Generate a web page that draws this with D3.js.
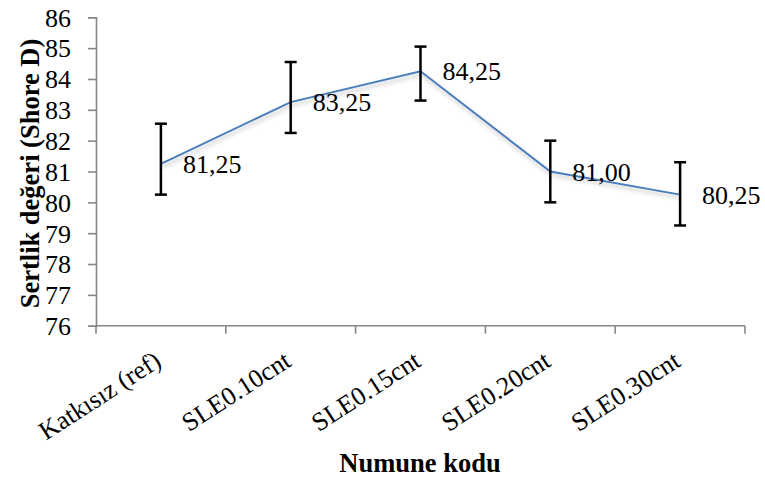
<!DOCTYPE html>
<html>
<head>
<meta charset="utf-8">
<script src="https://cdn.jsdelivr.net/npm/d3@7"></script>
<style>
  html, body { margin: 0; padding: 0; background: #fff; }
  svg text { font-family: "Liberation Serif", "Times New Roman", serif; fill: #000; }
</style>
</head>
<body>
<svg id="chart" width="765" height="481"></svg>
<script>
// Hardness per sample code, with error bar limits
const categories = ["Katkısız (ref)", "SLE0.10cnt", "SLE0.15cnt", "SLE0.20cnt", "SLE0.30cnt"];
const values = [81.25, 83.25, 84.25, 81.00, 80.25];
const upperLimits = [82.55, 84.55, 85.05, 82.00, 81.30];
const lowerLimits = [80.25, 82.25, 83.30, 80.00, 79.25];
const yTicks = [76, 77, 78, 79, 80, 81, 82, 83, 84, 85, 86];
const yTitle = "Sertlik değeri (Shore D)";
const xTitle = "Numune kodu";

const fmt = v => v.toFixed(2).replace(".", ",");

const svg = d3.select("#chart");
const plot = { left: 96, right: 745, top: 17.3, bottom: 325.7 };

const x = d3.scaleBand().domain(categories).range([plot.left, plot.right]).padding(0);
const y = d3.scaleLinear().domain([76, 86]).range([plot.bottom, plot.top]);
const cx = c => x(c) + x.bandwidth() / 2;

const axisColor = "#878787";

// Y axis
const yAxis = svg.append("g")
  .attr("transform", `translate(${plot.left},0)`)
  .call(d3.axisLeft(y).tickValues(yTicks).tickFormat(d3.format("d")).tickSize(8).tickPadding(17));
yAxis.select(".domain").attr("stroke", axisColor).attr("stroke-width", 1.6);
yAxis.selectAll(".tick line").attr("stroke", axisColor).attr("stroke-width", 1.6);
yAxis.selectAll(".tick text").style("font-size", "26px").attr("dy", "0.34em");

// X axis with boundary ticks between categories
const xAxis = svg.append("g").attr("transform", `translate(0,${plot.bottom})`);
xAxis.append("line")
  .attr("x1", plot.left).attr("x2", plot.right)
  .attr("stroke", axisColor).attr("stroke-width", 1.6);
const bounds = categories.map(c => x(c)).concat([plot.right]);
xAxis.selectAll("line.b").data(bounds).enter().append("line")
  .attr("class", "b")
  .attr("x1", d => d).attr("x2", d => d)
  .attr("y1", 0).attr("y2", 8)
  .attr("stroke", axisColor).attr("stroke-width", 1.6);
xAxis.selectAll("text").data(categories).enter().append("text")
  .attr("text-anchor", "end")
  .attr("transform", d => `translate(${cx(d) - 8},${24}) rotate(-33)`)
  .attr("dy", "0.7em")
  .style("font-size", "26px")
  .text(d => d);

// Axis titles
svg.append("text")
  .attr("transform", `translate(39,${(plot.top + plot.bottom) / 2 + 2}) rotate(-90)`)
  .attr("text-anchor", "middle")
  .style("font-size", "26.5px").style("font-weight", "bold")
  .text(yTitle);
svg.append("text")
  .attr("x", 420).attr("y", 472)
  .attr("text-anchor", "middle")
  .style("font-size", "26.5px").style("font-weight", "bold")
  .text(xTitle);

// Soft shadow under the series line
const defs = svg.append("defs");
const f = defs.append("filter").attr("id", "shadow")
  .attr("x", "-10%").attr("y", "-20%").attr("width", "120%").attr("height", "160%");
f.append("feDropShadow").attr("dx", 1).attr("dy", 3).attr("stdDeviation", 2)
  .attr("flood-color", "#000").attr("flood-opacity", 0.25);

const line = d3.line().x((d, i) => cx(categories[i])).y(d => y(d));
svg.append("path")
  .datum(values)
  .attr("d", line)
  .attr("fill", "none")
  .attr("stroke", "#4A7EBB")
  .attr("stroke-width", 2)
  .attr("filter", "url(#shadow)");

// Error bars
const eb = svg.append("g").attr("stroke", "#000").attr("stroke-width", 2.5);
categories.forEach((c, i) => {
  const px = cx(c);
  eb.append("line").attr("x1", px).attr("x2", px)
    .attr("y1", y(upperLimits[i])).attr("y2", y(lowerLimits[i]));
  [upperLimits[i], lowerLimits[i]].forEach(v => {
    eb.append("line").attr("x1", px - 6).attr("x2", px + 6)
      .attr("y1", y(v)).attr("y2", y(v));
  });
});

// Value labels to the right of each point
svg.selectAll("text.val").data(values).enter().append("text")
  .attr("class", "val")
  .attr("x", (d, i) => cx(categories[i]) + 22)
  .attr("y", d => y(d))
  .attr("dy", "0.35em")
  .style("font-size", "26px")
  .text(d => fmt(d));
</script>
</body>
</html>
